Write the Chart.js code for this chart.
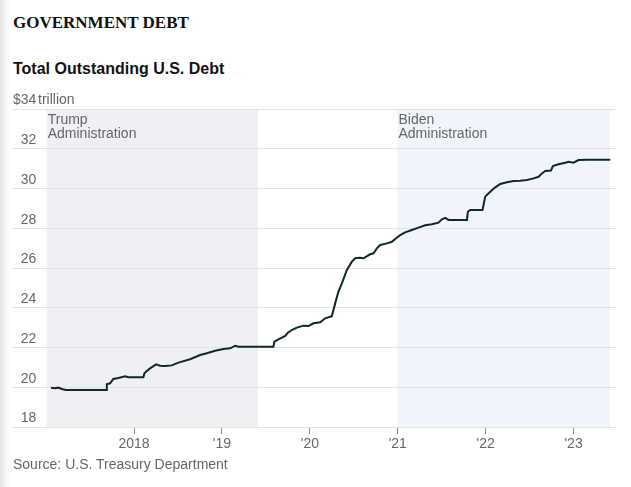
<!DOCTYPE html>
<html>
<head>
<meta charset="utf-8">
<script src="https://cdn.jsdelivr.net/npm/chart.js@4.4.0/dist/chart.umd.min.js"></script>
<style>
  html, body { margin: 0; padding: 0; }
  body {
    width: 631px; height: 487px; position: relative; overflow: hidden;
    background: linear-gradient(to right, #e4e4e4 0px, #f7f7f7 6px, #ffffff 12px);
  }
  #kicker { position: absolute; left: 13px; top: 14px; font: bold 17px/17px "Liberation Serif", "Times New Roman", serif; color: #111; white-space: nowrap; }
  #title { position: absolute; left: 13px; top: 61px; font: bold 16px/16px "Liberation Sans", Arial, sans-serif; color: #121212; white-space: nowrap; }
  #source { position: absolute; left: 13px; top: 457px; font: 14px/14px "Liberation Sans", Arial, sans-serif; color: #666; white-space: nowrap; }
  #debtChart { position: absolute; left: 0; top: 0; }
</style>
</head>
<body>
<div id="kicker">GOVERNMENT DEBT</div>
<div id="title">Total Outstanding U.S. Debt</div>
<canvas id="debtChart" width="631" height="487"></canvas>
<div id="source">Source: U.S. Treasury Department</div>
<script>
// debt in trillions of dollars, x in decimal years
const debtYears = [
  2017.055, 2017.101, 2017.138, 2017.177, 2017.223, 2017.689, 2017.690, 2017.727, 2017.764, 2017.821,
  2017.898, 2017.935, 2018.106, 2018.117, 2018.145, 2018.182, 2018.250, 2018.296, 2018.353, 2018.429,
  2018.504, 2018.637, 2018.751, 2018.827, 2018.922, 2019.016, 2019.093, 2019.150, 2019.187, 2019.585,
  2019.597, 2019.642, 2019.719, 2019.749, 2019.795, 2019.852, 2019.927, 2019.984, 2020.041, 2020.117,
  2020.174, 2020.250, 2020.288, 2020.325, 2020.364, 2020.421, 2020.478, 2020.515, 2020.572, 2020.610,
  2020.686, 2020.724, 2020.762, 2020.800, 2020.876, 2020.933, 2020.971, 2021.028, 2021.084, 2021.161,
  2021.236, 2021.312, 2021.388, 2021.463, 2021.502, 2021.540, 2021.577, 2021.787, 2021.798, 2021.824,
  2021.964, 2021.976, 2021.995, 2022.052, 2022.109, 2022.166, 2022.242, 2022.317, 2022.393, 2022.470,
  2022.545, 2022.602, 2022.640, 2022.678, 2022.743, 2022.765, 2022.829, 2022.906, 2022.943, 2023.000,
  2023.057, 2023.153, 2023.418
];
const debtValues = [
  19.98, 19.95, 19.98, 19.91, 19.86, 19.86, 20.15, 20.20, 20.42, 20.47,
  20.55, 20.50, 20.50, 20.70, 20.82, 20.95, 21.15, 21.08, 21.07, 21.10,
  21.24, 21.41, 21.62, 21.71, 21.84, 21.92, 21.96, 22.09, 22.04, 22.04,
  22.29, 22.41, 22.58, 22.74, 22.88, 23.00, 23.10, 23.08, 23.22, 23.27,
  23.47, 23.58, 24.22, 24.81, 25.23, 25.90, 26.32, 26.49, 26.52, 26.49,
  26.69, 26.74, 26.99, 27.16, 27.24, 27.32, 27.46, 27.66, 27.79, 27.91,
  28.03, 28.15, 28.20, 28.28, 28.45, 28.52, 28.42, 28.42, 28.83, 28.92,
  28.92, 29.17, 29.59, 29.84, 30.06, 30.23, 30.31, 30.38, 30.39, 30.43,
  30.51, 30.59, 30.76, 30.88, 30.90, 31.13, 31.22, 31.30, 31.35, 31.30,
  31.43, 31.45, 31.45
];

const tickYears = [2018, 2019, 2020, 2021, 2022, 2023];
const tickLabels = ["2018", "'19", "'20", "'21", "'22", "'23"];

const adminLabels = [["Trump", "Administration"], ["Biden", "Administration"]];
const adminStart = [2017.006, 2020.997];
const adminEnd = [2019.411, 2023.410];

const X_MIN = 2016.611, X_MAX = 2023.483;
const Y_MIN = 18, Y_MAX = 34, Y_STEP = 2;

const FONT = "'Liberation Sans', Arial, sans-serif";
const GRAY = "#666";
const ADMIN_COLORS = ["#eef0f3", "#f0f5fc"];
const Y_LABEL_SHIFT = -8.5; // y labels sit just above their gridline

document.addEventListener("DOMContentLoaded", function () {
  const ctx = document.getElementById("debtChart").getContext("2d");

  // shaded administration bands + their labels, and the "trillion" unit next to the top tick
  const bands = {
    id: "bands",
    beforeDraw(chart) {
      const { ctx, chartArea, scales: { x } } = chart;
      ctx.save();
      adminStart.forEach((s, i) => {
        const x0 = x.getPixelForValue(s);
        const x1 = x.getPixelForValue(adminEnd[i]);
        ctx.fillStyle = ADMIN_COLORS[i];
        ctx.fillRect(x0, chartArea.top, x1 - x0, chartArea.bottom - chartArea.top);
      });
      ctx.restore();
    },
    afterDraw(chart) {
      const { ctx, chartArea, scales: { x, y } } = chart;
      ctx.save();
      ctx.font = "14px " + FONT;
      ctx.fillStyle = GRAY;
      ctx.textAlign = "left";
      ctx.textBaseline = "alphabetic";
      adminStart.forEach((s, i) => {
        const x0 = x.getPixelForValue(s) + 1;
        adminLabels[i].forEach((line, j) => {
          ctx.fillText(line, x0, chartArea.top + 15 + j * 14);
        });
      });
      ctx.textBaseline = "middle";
      ctx.fillText("trillion", 38, y.getPixelForValue(Y_MAX) + Y_LABEL_SHIFT);
      ctx.restore();
    }
  };

  new Chart(ctx, {
    type: "line",
    data: {
      datasets: [{
        data: debtYears.map((yr, i) => ({ x: yr, y: debtValues[i] })),
        borderColor: "#102828",
        borderWidth: 2,
        pointRadius: 0,
        tension: 0,
        fill: false
      }]
    },
    options: {
      responsive: false,
      animation: false,
      devicePixelRatio: 1,
      layout: { padding: { left: 12, top: 109, right: 15, bottom: 30 } },
      plugins: {
        legend: { display: false },
        tooltip: { enabled: false }
      },
      scales: {
        x: {
          type: "linear",
          min: X_MIN,
          max: X_MAX,
          afterBuildTicks: s => { s.ticks = tickYears.map(v => ({ value: v })); },
          afterFit: s => { s.height = 30; },
          border: { display: false },
          grid: { drawOnChartArea: false, drawTicks: true, tickLength: 7, color: "#8a8a8a" },
          ticks: {
            autoSkip: false,
            maxRotation: 0,
            padding: 2,
            color: GRAY,
            font: { family: FONT, size: 14 },
            callback: (v, i) => tickLabels[i]
          }
        },
        y: {
          min: Y_MIN,
          max: Y_MAX,
          afterFit: s => { s.width = 0; },
          border: { display: false },
          grid: { color: "#e2e2e2", drawTicks: false },
          ticks: {
            stepSize: Y_STEP,
            mirror: true,
            crossAlign: "far",
            padding: 1,
            labelOffset: Y_LABEL_SHIFT,
            color: GRAY,
            font: { family: FONT, size: 14 },
            callback: v => (v === Y_MAX ? "$" + v : v)
          }
        }
      }
    },
    plugins: [bands]
  });
});
</script>
</body>
</html>
